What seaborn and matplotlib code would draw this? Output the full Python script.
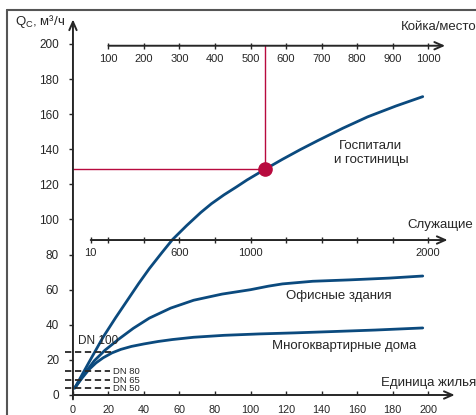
import numpy as np
import pandas as pd
import matplotlib
matplotlib.use("Agg")
import matplotlib.pyplot as plt
import seaborn as sns
from matplotlib.lines import Line2D

# ---------------- data ----------------
# main x axis: "Единица жилья" (dwelling units), y axis: Q_C, m3/h
hosp_x = [1, 9, 17, 24, 30, 37, 43, 50, 56, 64, 72, 78, 85, 92, 98, 108, 118,
          128, 138, 152, 166, 182, 197]
hosp_q = [4, 18.6, 33, 44, 53, 63.5, 72, 81, 88.5, 96.5, 104, 109, 114, 118.5,
          122.5, 128.5, 134.3, 139.8, 145, 152, 158.5, 164.7, 170]

office_x = [1, 6, 12, 18, 26, 34, 43, 55, 68, 84, 100, 110, 118, 135, 156, 178, 197]
office_q = [4, 11.5, 19.5, 25.5, 32, 38, 43.8, 49.5, 54, 57.5, 60, 62, 63.3, 64.8,
            65.6, 66.6, 67.8]

apart_x = [1, 5, 9, 13, 17, 22, 27, 33, 40, 48, 56, 68, 85, 105, 125, 145, 170, 197]
apart_q = [4, 9.5, 14.5, 18.3, 21.2, 24, 26, 27.7, 29.1, 30.5, 31.6, 32.9, 34, 34.8,
           35.4, 36.1, 37, 38.2]

unit_ticks = list(range(0, 201, 20))
q_ticks = list(range(0, 201, 20))

bed_ticks = [100, 200, 300, 400, 500, 600, 700, 800, 900, 1000]
emp_labels = ["10", "600", "1000", "2000"]
emp_label_units = [10, 60, 100, 200]
emp_tick_units = [10, 20, 40, 60, 80, 100, 120, 140, 160, 180, 200]

dn_labels = ["DN 100", "DN 80", "DN 65", "DN 50"]
dn_q = [24.5, 13.5, 8.5, 3.8]

point_beds = 540
point_q = 129

series_labels = ["Госпитали\nи гостиницы", "Офисные здания", "Многоквартирные дома"]


def beds_to_units(b):
    return 20 + (np.asarray(b, dtype=float) - 100) / 5.0


# ---------------- styling ----------------
BLUE = "#0b4a7e"
RED = "#b80a3e"
DARK = "#262626"

sns.set_theme(style="white")
plt.rcParams["font.family"] = ["Liberation Sans", "DejaVu Sans"]
plt.rcParams["mathtext.default"] = "regular"

W, H = 477, 415
fig = plt.figure(figsize=(W / 100, H / 100), dpi=100)
ax = fig.add_axes([60 / W, 1 - 400 / H, 405 / W, 392 / H])
ax.set_xlim(-7.3, 220.8)
ax.set_ylim(-2.85, 220.5)
ax.patch.set_alpha(0)

for s in ["top", "right"]:
    ax.spines[s].set_visible(False)
ax.spines["left"].set_position(("data", 0))
ax.spines["bottom"].set_position(("data", 0))
ax.spines["left"].set_visible(False)
ax.spines["bottom"].set_visible(False)

ax.set_xticks(unit_ticks)
ax.set_yticks(q_ticks)
ax.tick_params(axis="y", direction="out", length=3, width=1, pad=7,
               labelsize=8.5, colors=DARK, left=True)
ax.tick_params(axis="x", direction="in", length=3, width=1, pad=7,
               labelsize=7.8, colors=DARK, bottom=True)

arrow = dict(arrowstyle="->,head_length=0.5,head_width=0.22", lw=1.4,
             color=DARK, shrinkA=0, shrinkB=0)
ax.annotate("", xy=(0, 214), xytext=(0, -2.5), arrowprops=arrow)
ax.annotate("", xy=(215, 0), xytext=(0, 0), arrowprops=arrow)

# ---------------- curves ----------------
df_h = pd.DataFrame({"x": hosp_x, "q": hosp_q})
df_o = pd.DataFrame({"x": office_x, "q": office_q})
df_a = pd.DataFrame({"x": apart_x, "q": apart_q})
for d in (df_h, df_o, df_a):
    sns.lineplot(data=d, x="x", y="q", ax=ax, color=BLUE, lw=2,
                 sort=False, estimator=None)
ax.set_xlabel("")
ax.set_ylabel("")

# ---------------- secondary scale: beds ----------------
top_y = 199
bx = beds_to_units(bed_ticks)
ax.annotate("", xy=(209.6, top_y), xytext=(bx[0], top_y), arrowprops=arrow)
ax.plot(bx, [top_y] * len(bx), ls="", marker="|", ms=4, mew=1, color=DARK)
for b, x in zip(bed_ticks, bx):
    ax.text(x, top_y - 7.5, str(b), ha="center", va="center", fontsize=8, color=DARK)
ax.text(227, 209.7, "Койка/место", ha="right", va="center", fontsize=9.5, color=DARK)

# ---------------- secondary scale: employees ----------------
mid_y = 88.3
ax.annotate("", xy=(211, mid_y), xytext=(emp_tick_units[0], mid_y), arrowprops=arrow)
ax.plot(emp_tick_units, [mid_y] * len(emp_tick_units), ls="", marker="|", ms=4,
        mew=1, color=DARK)
for lab, x in zip(emp_labels, emp_label_units):
    ax.text(x, mid_y - 7.4, lab, ha="center", va="center", fontsize=8, color=DARK)
ax.text(225.2, 96.9, "Служащие", ha="right", va="center", fontsize=9.5, color=DARK)

# ---------------- reading example ----------------
px = float(beds_to_units(point_beds))
ax.plot([0, px], [point_q, point_q], color=RED, lw=1)
ax.plot([px, px], [point_q, top_y], color=RED, lw=1)
ax.plot([px], [point_q], "o", ms=9.5, color=RED)

# ---------------- DN lines ----------------
for lab, q in zip(dn_labels, dn_q):
    end = 21.8 if lab == "DN 100" else 20.8
    ax.plot([-4.5, end], [q, q], color=DARK, lw=1.3, dashes=(3.5, 2))
    if lab == "DN 100":
        ax.text(14.3, q + 6, lab, ha="center", va="center", fontsize=8.5, color=DARK)
    else:
        ax.text(22.7, q, lab, ha="left", va="center", fontsize=6.8, color=DARK)

# ---------------- series labels ----------------
ax.text(167.8, 137.8, series_labels[0], ha="center", va="center",
        fontsize=9.5, color=DARK, linespacing=1.25)
ax.text(150, 56.4, series_labels[1], ha="center", va="center", fontsize=9.5, color=DARK)
ax.text(153, 27.9, series_labels[2], ha="center", va="center", fontsize=9.5, color=DARK)
ax.text(227, 7, "Единица жилья", ha="right", va="center", fontsize=9.5, color=DARK)

# ---------------- y label & frame ----------------
fig.text(15 / W, 1 - 22 / H, "$Q_C$, м³/ч", ha="left", va="center",
         fontsize=9.5, color=DARK)
fig.add_artist(Line2D([7.5 / W, 7.5 / W], [0, 1 - 10 / H], transform=fig.transFigure,
                      color="#555555", lw=1.5))
fig.add_artist(Line2D([7.5 / W, 1], [1 - 10 / H, 1 - 10 / H], transform=fig.transFigure,
                      color="#555555", lw=1.5))

fig.savefig("out.png", dpi=100)
